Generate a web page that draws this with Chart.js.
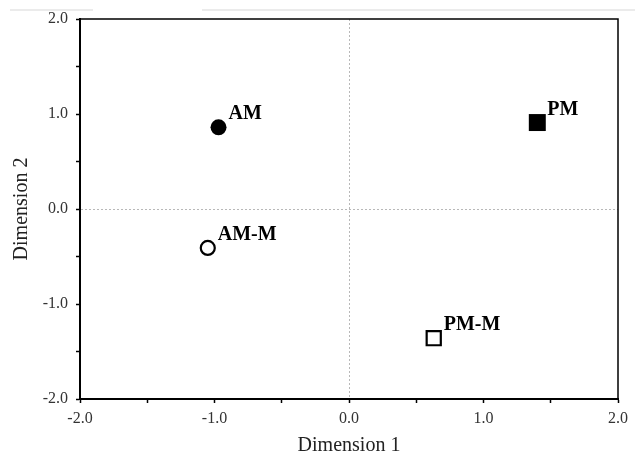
<!DOCTYPE html>
<html>
<head>
<meta charset="utf-8">
<script src="https://cdn.jsdelivr.net/npm/chart.js@4"></script>
<style>
  html, body { margin: 0; padding: 0; background: #fff; }
  canvas { display: block; }
</style>
</head>
<body>
<canvas id="mdsChart" width="635" height="456"></canvas>
<script>
// pontos do mapa MDS
const grupos = ["AM", "PM", "AM-M", "PM-M"];
const dimensao1 = [-0.97, 1.40, -1.05, 0.63];
const dimensao2 = [0.86, 0.91, -0.41, -1.36];

const formas = ["circle", "rect", "circle", "rect"];
const raios = [8, 12, 7, 10];
const preenchido = [true, true, false, false];

const fonteSerif = "'Liberation Serif', 'Times New Roman', serif";

// moldura de cima e da direita + rótulos dos pontos
const extrasPlugin = {
  id: "extras",
  beforeDraw(chart) {
    const ctx = chart.ctx;
    ctx.save();
    ctx.strokeStyle = "#ebebeb";
    ctx.lineWidth = 2;
    ctx.beginPath();
    ctx.moveTo(10, 10); ctx.lineTo(93, 10);
    ctx.moveTo(202, 10); ctx.lineTo(635, 10);
    ctx.stroke();
    ctx.restore();
  },
  afterDraw(chart) {
    const { ctx, chartArea } = chart;
    ctx.save();
    ctx.strokeStyle = "#000";
    ctx.lineWidth = 1.5;
    ctx.beginPath();
    ctx.moveTo(chartArea.left, chartArea.top);
    ctx.lineTo(chartArea.right, chartArea.top);
    ctx.lineTo(chartArea.right, chartArea.bottom);
    ctx.stroke();

    ctx.fillStyle = "#000";
    ctx.font = "bold 20px " + fonteSerif;
    ctx.textAlign = "left";
    ctx.textBaseline = "alphabetic";
    grupos.forEach((g, i) => {
      const el = chart.getDatasetMeta(i).data[0];
      ctx.fillText(g, el.x + 10, el.y - 8);
    });
    ctx.restore();
  },
};

function inicializarGrafico() {
  const ctx = document.getElementById("mdsChart").getContext("2d");

  const datasets = grupos.map((g, i) => ({
    label: g,
    data: [{ x: dimensao1[i], y: dimensao2[i] }],
    pointStyle: formas[i],
    pointRadius: raios[i],
    pointBackgroundColor: preenchido[i] ? "#000" : "#fff",
    pointBorderColor: "#000",
    pointBorderWidth: preenchido[i] ? 0 : 2.2,
  }));

  const corGrade = (c) => (c.tick && c.tick.value === 0 ? "#b8b8b8" : "rgba(0,0,0,0)");
  const rotulo = (v) => (Math.abs(v - Math.round(v)) < 1e-6 ? v.toFixed(1) : "");

  new Chart(ctx, {
    type: "scatter",
    data: { datasets },
    plugins: [extrasPlugin],
    options: {
      responsive: false,
      animation: false,
      layout: { padding: { top: 19, right: 17, left: 0, bottom: 0 } },
      plugins: { legend: { display: false }, tooltip: { enabled: false } },
      scales: {
        x: {
          type: "linear",
          min: -2,
          max: 2,
          afterFit: (s) => { s.height = 57; },
          ticks: {
            stepSize: 0.5,
            autoSkip: false,
            maxRotation: 0,
            padding: 6,
            color: "#333",
            font: { family: fonteSerif, size: 16 },
            callback: rotulo,
          },
          grid: { color: corGrade, lineWidth: 1, tickColor: "#000", tickLength: 4, tickWidth: 1.5 },
          border: { display: true, color: "#000", width: 2, dash: [2, 2] },
          title: {
            display: true,
            text: "Dimension 1",
            color: "#222",
            font: { family: fonteSerif, size: 20, lineHeight: 1 },
            padding: { top: 0, bottom: 0 },
          },
        },
        y: {
          type: "linear",
          min: -2,
          max: 2,
          afterFit: (s) => { s.width = 80; },
          ticks: {
            stepSize: 0.5,
            autoSkip: false,
            padding: 8,
            color: "#333",
            font: { family: fonteSerif, size: 16 },
            callback: rotulo,
          },
          grid: { color: corGrade, lineWidth: 1, tickColor: "#000", tickLength: 4, tickWidth: 1.5 },
          border: { display: true, color: "#000", width: 2, dash: [2, 2] },
          title: {
            display: true,
            text: "Dimension 2",
            color: "#222",
            font: { family: fonteSerif, size: 20, lineHeight: 1 },
            padding: { top: 12, bottom: 0 },
          },
        },
      },
    },
  });
}

inicializarGrafico();
</script>
</body>
</html>
